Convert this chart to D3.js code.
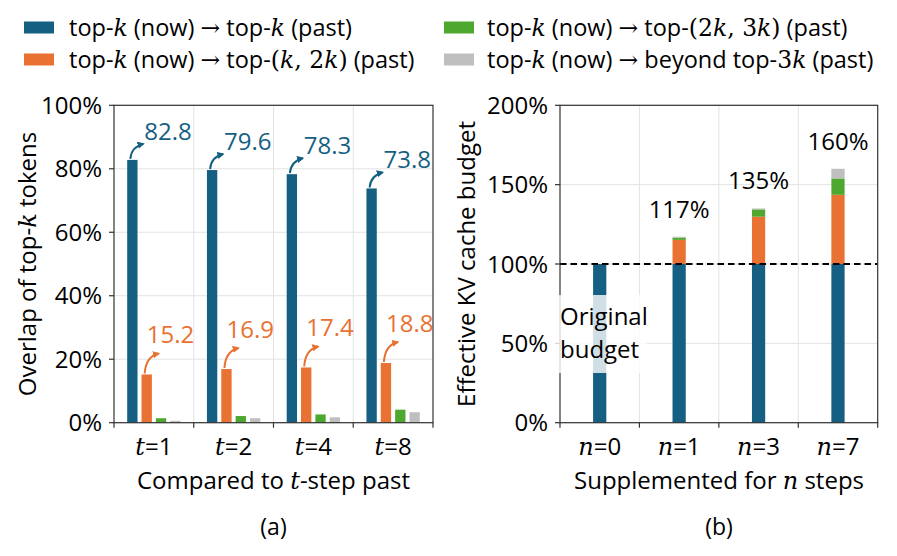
<!DOCTYPE html>
<html>
<head>
<meta charset="utf-8">
<script src="https://cdn.jsdelivr.net/npm/d3@7"></script>
<style>
  body { margin: 0; background: #fff; }
  svg text { font-family: "Open Sans", "Noto Sans", sans-serif; }
  .math { font-family: "DejaVu Serif", "Liberation Serif", serif; }
</style>
</head>
<body>
<div id="canvas"></div>
<script>
// data
const steps = ["t=1", "t=2", "t=4", "t=8"];
const seriesNames = ["topk", "k2k", "2k3k", "beyond"];
const topkPast = [82.8, 79.6, 78.3, 73.8];
const k2kPast = [15.2, 16.9, 17.4, 18.8];
const k3kPast = [1.4, 2.1, 2.6, 4.1];
const beyondPast = [0.6, 1.4, 1.7, 3.3];

const supplSteps = ["n=0", "n=1", "n=3", "n=7"];
const budgetBase = [100, 100, 100, 100];
const budgetK2k = [0, 15.2, 29.8, 43.6];
const budgetK3k = [0, 1.4, 4.6, 10.3];
const budgetBeyond = [0, 0.6, 0.6, 6.1];
const budgetLabels = [null, "117%", "135%", "160%"];

const yTicksA = [0, 20, 40, 60, 80, 100];
const yTicksB = [0, 50, 100, 150, 200];

// legend text, k parts are math
const legendItems = [
    [["top-"], ["k", "i"], [" (now) "], ["→", "m"], [" top-"], ["k", "i"], [" (past)"]],
    [["top-"], ["k", "i"], [" (now) "], ["→", "m"], [" top-"], ["(", "m"], ["k", "i"], [", 2", "m"], ["k", "i"], [")", "m"], [" (past)"]],
    [["top-"], ["k", "i"], [" (now) "], ["→", "m"], [" top-"], ["(2", "m"], ["k", "i"], [", 3", "m"], ["k", "i"], [")", "m"], [" (past)"]],
    [["top-"], ["k", "i"], [" (now) "], ["→", "m"], [" beyond top-"], ["3", "m"], ["k", "i"], [" (past)"]]
];

const colours = ["#156082", "#E97132", "#4EA72E", "#BFBFBF"];
const fs = 24;

const W = 897, H = 556;
const svg = d3.select("#canvas").append("svg")
    .attr("width", W)
    .attr("height", H);

svg.append("defs").selectAll("marker")
    .data(colours.slice(0, 2))
    .join("marker")
    .attr("id", (d, i) => "arrow" + i)
    .attr("viewBox", "0 0 10 10")
    .attr("refX", 8)
    .attr("refY", 5)
    .attr("markerWidth", 3.6)
    .attr("markerHeight", 3.6)
    .attr("markerUnits", "strokeWidth")
    .attr("orient", "auto")
    .append("path")
    .attr("d", "M0,0 L10,5 L0,10 z")
    .attr("fill", d => d);

// writes a list of segments into a text element
function richText(sel, segs) {
    segs.forEach(s => {
        const t = sel.append("tspan").text(s[0]);
        if (s[1] === "i") t.attr("class", "math").attr("font-style", "italic");
        if (s[1] === "m") t.attr("class", "math");
    });
}

// legend
const legendPos = [[24, 27.5], [24, 59.5], [444, 27.5], [444, 59.5]];
legendItems.forEach((item, i) => {
    const g = svg.append("g").attr("transform", "translate(" + legendPos[i][0] + "," + legendPos[i][1] + ")");
    g.append("rect")
        .attr("x", 0).attr("y", -6)
        .attr("width", 30).attr("height", 12)
        .attr("fill", colours[i]);
    const t = g.append("text")
        .attr("x", i < 2 ? 45 : 43).attr("y", 8.5)
        .attr("font-size", 23.5);
    richText(t, item);
});

const plotTop = 105.3, plotBottom = 422.7;

function grid(g, x, y, ticks, xLeft, xRight, cats) {
    g.append("g").selectAll("line")
        .data(ticks)
        .join("line")
        .attr("x1", xLeft).attr("x2", xRight)
        .attr("y1", d => y(d)).attr("y2", d => y(d))
        .attr("stroke", "#e3e3e3").attr("stroke-width", 1);
    g.append("g").selectAll("line")
        .data(cats.slice(1))
        .join("line")
        .attr("x1", d => x(d)).attr("x2", d => x(d))
        .attr("y1", plotTop).attr("y2", plotBottom)
        .attr("stroke", "#e3e3e3").attr("stroke-width", 1);
}

function axes(g, x, y, ticks, xLeft, xRight, cats) {
    g.append("rect")
        .attr("x", xLeft).attr("y", plotTop)
        .attr("width", xRight - xLeft).attr("height", plotBottom - plotTop)
        .attr("fill", "none").attr("stroke", "#333").attr("stroke-width", 1.2);
    g.append("g").selectAll("line")
        .data(ticks)
        .join("line")
        .attr("x1", xLeft - 5).attr("x2", xLeft)
        .attr("y1", d => y(d)).attr("y2", d => y(d))
        .attr("stroke", "#333").attr("stroke-width", 1.2);
    g.append("g").selectAll("text")
        .data(ticks)
        .join("text")
        .attr("x", xLeft - 12).attr("y", d => y(d) + 8.5)
        .attr("text-anchor", "end")
        .attr("font-size", fs)
        .text(d => d + "%");
    const bounds = cats.map(c => x(c)).concat([xRight]);
    g.append("g").selectAll("line")
        .data(bounds)
        .join("line")
        .attr("x1", d => d).attr("x2", d => d)
        .attr("y1", plotBottom).attr("y2", plotBottom + 5)
        .attr("stroke", "#333").attr("stroke-width", 1.2);
    g.append("g").selectAll("text")
        .data(cats)
        .join("text")
        .attr("x", c => x(c) + x.bandwidth() / 2)
        .attr("y", 455)
        .attr("text-anchor", "middle")
        .attr("font-size", fs)
        .each(function(c) {
            const parts = c.split("=");
            richText(d3.select(this), [[parts[0], "i"], ["=" + parts[1]]]);
        });
}

function arrow(g, sx, sy, ex, ey, idx) {
    const p = d3.path();
    p.moveTo(sx, sy);
    p.quadraticCurveTo(sx + 1, ey + 3, ex, ey);
    g.append("path")
        .attr("d", p.toString())
        .attr("fill", "none")
        .attr("stroke", colours[idx])
        .attr("stroke-width", 2)
        .attr("marker-end", "url(#arrow" + idx + ")");
}

// panel (a)
const gA = svg.append("g");
const xA = d3.scaleBand().domain(steps).range([114, 433]);
const xInner = d3.scaleBand().domain(seriesNames).range([0, xA.bandwidth()]).paddingInner(0.28).paddingOuter(0.92);
const yA = d3.scaleLinear().domain([0, 100]).range([plotBottom, plotTop]);
grid(gA, xA, yA, yTicksA, 114, 433, steps);

const seriesA = [topkPast, k2kPast, k3kPast, beyondPast];
seriesA.forEach((vals, si) => {
    gA.append("g").selectAll("rect")
        .data(vals)
        .join("rect")
        .attr("x", (d, i) => xA(steps[i]) + xInner(seriesNames[si]))
        .attr("y", d => yA(d))
        .attr("width", xInner.bandwidth())
        .attr("height", d => yA(0) - yA(d))
        .attr("fill", colours[si]);
});

// value annotations with curved arrows
[topkPast, k2kPast].forEach((vals, si) => {
    vals.forEach((d, i) => {
        const cx = xA(steps[i]) + xInner(seriesNames[si]) + xInner.bandwidth() / 2;
        const ty = yA(d);
        const dy = si === 0 ? 16 : 21;
        arrow(gA, cx - 2, ty - 1, cx + 11 + si, ty - dy, si);
        gA.append("text")
            .attr("x", si === 0 ? cx + 12 : cx)
            .attr("y", si === 0 ? ty - 20 : ty - 31)
            .attr("font-size", fs)
            .attr("fill", colours[si])
            .text(d.toFixed(1));
    });
});
axes(gA, xA, yA, yTicksA, 114, 433, steps);

// panel (b)
const gB = svg.append("g");
const xB = d3.scaleBand().domain(supplSteps).range([560, 877.7]);
const yB = d3.scaleLinear().domain([0, 200]).range([plotBottom, plotTop]);
grid(gB, xB, yB, yTicksB, 560, 877.7, supplSteps);

const bw = xB.bandwidth() / 6;
const seriesB = [budgetBase, budgetK2k, budgetK3k, budgetBeyond];
const stacked = d3.stack().keys([0, 1, 2, 3]).value((d, k) => seriesB[k][d])(d3.range(supplSteps.length));
stacked.forEach((layer, si) => {
    gB.append("g").selectAll("rect")
        .data(layer)
        .join("rect")
        .attr("x", (d, i) => xB(supplSteps[i]) + xB.bandwidth() / 2 - bw / 2)
        .attr("y", d => yB(d[1]))
        .attr("width", bw)
        .attr("height", d => yB(d[0]) - yB(d[1]))
        .attr("fill", colours[si]);
});

stacked[3].forEach((d, i) => {
    if (!budgetLabels[i]) return;
    gB.append("text")
        .attr("x", xB(supplSteps[i]) + xB.bandwidth() / 2)
        .attr("y", yB(d[1]) - 19)
        .attr("text-anchor", "middle")
        .attr("font-size", fs)
        .text(budgetLabels[i]);
});

gB.append("line")
    .attr("x1", 560).attr("x2", 877.7)
    .attr("y1", yB(100)).attr("y2", yB(100))
    .attr("stroke", "#000").attr("stroke-width", 2.2)
    .attr("stroke-dasharray", "6.5,4");

axes(gB, xB, yB, yTicksB, 560, 877.7, supplSteps);

// "Original budget" box
gB.append("rect")
    .attr("x", 553).attr("y", 295)
    .attr("width", 94).attr("height", 78)
    .attr("fill", "#fff").attr("fill-opacity", 0.8);
gB.append("text")
    .attr("x", 560).attr("y", 325)
    .attr("font-size", fs)
    .text("Original");
gB.append("text")
    .attr("x", 560).attr("y", 358)
    .attr("font-size", fs)
    .text("budget");

// axis titles
const yTitleA = svg.append("text")
    .attr("transform", "translate(36,264) rotate(-90)")
    .attr("text-anchor", "middle")
    .attr("font-size", fs);
richText(yTitleA, [["Overlap of top-"], ["k", "i"], [" tokens"]]);

svg.append("text")
    .attr("transform", "translate(475,264) rotate(-90)")
    .attr("text-anchor", "middle")
    .attr("font-size", fs)
    .text("Effective KV cache budget");

const xTitleA = svg.append("text")
    .attr("x", 273.5).attr("y", 489)
    .attr("text-anchor", "middle")
    .attr("font-size", fs);
richText(xTitleA, [["Compared to "], ["t", "i"], ["-step past"]]);

const xTitleB = svg.append("text")
    .attr("x", 719).attr("y", 489)
    .attr("text-anchor", "middle")
    .attr("font-size", fs);
richText(xTitleB, [["Supplemented for "], ["n", "i"], [" steps"]]);

svg.append("text")
    .attr("x", 273.5).attr("y", 535)
    .attr("text-anchor", "middle")
    .attr("font-size", 23)
    .text("(a)");
svg.append("text")
    .attr("x", 719).attr("y", 535)
    .attr("text-anchor", "middle")
    .attr("font-size", 23)
    .text("(b)");
</script>
</body>
</html>
